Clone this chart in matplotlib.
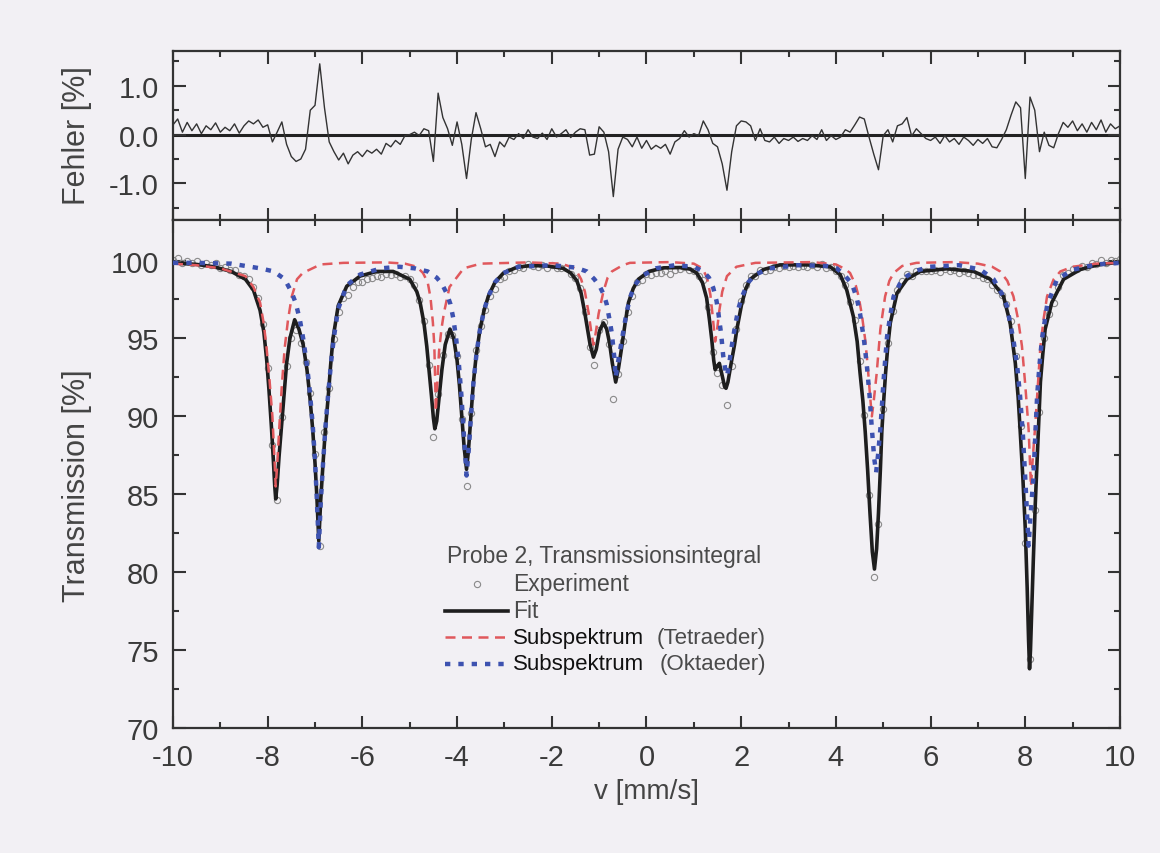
import numpy as np
import matplotlib
matplotlib.use("Agg")
import matplotlib.pyplot as plt

# Mössbauer-Spektrum Probe 2

# Messkanaele (Geschwindigkeit in mm/s)
v_exp = np.round(np.linspace(-10, 10, 201), 2)

# Experiment: Transmission in %
t_exp = [
    100.05, 100.15, 99.85, 100.0, 99.84, 99.97, 99.74, 99.86, 99.73, 99.81,
    99.55, 99.57, 99.40, 99.42, 99.08, 99.03, 98.83, 98.32, 97.6, 95.95,
    93.1, 88.15, 84.6, 89.95, 93.2, 95.05, 95.55, 94.7, 93.5, 91.5,
    87.6, 81.7, 89.0, 91.85, 94.95, 96.7, 97.6, 97.8, 98.3, 98.6,
    98.6, 98.83, 98.87, 99.0, 98.92, 99.14, 99.05, 99.13, 98.95, 98.98,
    98.8, 98.4, 97.48, 96.12, 93.28, 88.7, 91.45, 93.95, 95.3, 95.2,
    93.86, 89.8, 85.5, 90.2, 94.25, 95.82, 96.85, 97.75, 98.15, 98.8,
    98.97, 99.35, 99.42, 99.6, 99.55, 99.77, 99.63, 99.6, 99.7, 99.55,
    99.74, 99.53, 99.54, 99.5, 99.14, 98.9, 98.22, 96.7, 94.48, 93.3,
    95.56, 96.05, 94.65, 91.1, 92.7, 94.85, 96.7, 97.75, 98.6, 98.72,
    99.13, 99.05, 99.2, 99.22, 99.33, 99.15, 99.4, 99.47, 99.6, 99.42,
    99.34, 99.03, 98.73, 97.0, 94.1, 92.8, 92.0, 90.7, 93.25, 95.6,
    97.4, 98.45, 99.0, 98.98, 99.42, 99.33, 99.4, 99.6, 99.52, 99.64,
    99.6, 99.67, 99.58, 99.64, 99.6, 99.69, 99.6, 99.78, 99.52, 99.56,
    99.3, 99.0, 98.45, 97.35, 96.2, 93.56, 90.1, 84.95, 79.7, 83.1,
    90.5, 94.7, 96.75, 98.13, 98.67, 99.15, 99.02, 99.34, 99.32, 99.3,
    99.3, 99.4, 99.28, 99.45, 99.32, 99.37, 99.23, 99.35, 99.23, 99.08,
    99.1, 98.9, 98.82, 98.45, 98.08, 97.8, 97.2, 96.1, 93.87, 89.35,
    81.9, 74.4, 84.0, 90.25, 95.05, 96.58, 97.28, 98.27, 99.05, 99.2,
    99.48, 99.46, 99.67, 99.57, 99.85, 99.8, 100.04, 99.83, 100.05, 99.98,
    100.08,
]

# Fehler (Experiment - Fit) in %
fehler = [
    0.20, 0.32, 0.05, 0.25, 0.08, 0.22, 0.02, 0.18, 0.10, 0.24,
    0.05, 0.15, 0.08, 0.22, 0.03, 0.18, 0.28, 0.22, 0.30, 0.15,
    0.20, -0.15, 0.05, 0.26, -0.20, -0.45, -0.55, -0.50, -0.30, 0.50,
    0.60, 1.45, 0.55, -0.15, -0.35, -0.52, -0.38, -0.60, -0.42, -0.35,
    -0.45, -0.32, -0.38, -0.30, -0.40, -0.18, -0.25, -0.12, -0.20, -0.02,
    0.00, 0.05, -0.02, 0.12, 0.08, -0.55, 0.85, 0.35, 0.12, -0.22,
    0.26, -0.20, -0.90, -0.10, 0.45, 0.12, -0.25, -0.20, -0.45, -0.15,
    -0.25, -0.05, -0.10, 0.02, -0.08, 0.10, -0.05, -0.08, 0.03, -0.10,
    0.12, -0.05, 0.02, 0.10, -0.06, 0.05, 0.12, 0.10, -0.42, -0.40,
    0.16, 0.05, -0.35, -1.27, -0.30, -0.05, -0.10, -0.25, -0.05, -0.28,
    -0.12, -0.30, -0.22, -0.28, -0.20, -0.40, -0.15, -0.08, 0.08, -0.05,
    0.02, -0.02, 0.28, 0.10, -0.18, -0.25, -0.60, -1.14, -0.35, 0.18,
    0.28, 0.26, 0.18, -0.12, 0.12, -0.12, -0.15, -0.05, -0.18, -0.08,
    -0.12, -0.05, -0.14, -0.08, -0.12, -0.02, -0.10, 0.10, -0.12, -0.02,
    -0.10, -0.05, 0.10, 0.05, 0.20, 0.36, 0.32, -0.05, -0.40, -0.72,
    -0.02, 0.10, -0.15, 0.18, 0.22, 0.35, -0.03, 0.12, 0.02, -0.08,
    -0.12, -0.05, -0.18, -0.02, -0.15, -0.08, -0.20, -0.05, -0.12, -0.22,
    -0.10, -0.18, -0.08, -0.25, -0.27, -0.10, 0.10, 0.40, 0.67, 0.55,
    -0.90, 0.77, 0.50, -0.35, 0.05, -0.22, -0.27, 0.02, 0.25, 0.15,
    0.28, 0.08, 0.22, 0.05, 0.25, 0.10, 0.30, 0.05, 0.22, 0.12,
    0.18,
]

# Fit (Gesamtspektrum)
v_fit = [
    -10.0, -9.5, -9.14, -8.77, -8.47, -8.30, -8.16, -8.08, -8.02, -7.97,
    -7.92, -7.88, -7.85, -7.83, -7.80, -7.76, -7.71, -7.65, -7.60, -7.53,
    -7.43, -7.34, -7.25, -7.17, -7.11, -7.05, -7.00, -6.96, -6.92, -6.88,
    -6.83, -6.78, -6.72, -6.67, -6.62, -6.51, -6.33, -6.05, -5.70, -5.35,
    -5.00, -4.85, -4.78, -4.70, -4.64, -4.58, -4.54, -4.50, -4.47, -4.43,
    -4.38, -4.32, -4.25, -4.15, -4.07, -4.00, -3.95, -3.90, -3.85, -3.80,
    -3.76, -3.71, -3.66, -3.60, -3.52, -3.43, -3.34, -3.20, -3.02, -2.75,
    -2.46, -2.10, -1.76, -1.60, -1.47, -1.38, -1.30, -1.24, -1.19, -1.12,
    -1.06, -0.99, -0.91, -0.84, -0.78, -0.72, -0.65, -0.59, -0.52, -0.45,
    -0.38, -0.28, -0.17, 0.05, 0.36, 0.70, 0.92, 1.06, 1.18, 1.27,
    1.33, 1.38, 1.42, 1.45, 1.49, 1.54, 1.60, 1.65, 1.68, 1.72,
    1.76, 1.80, 1.86, 1.91, 2.01, 2.10, 2.19, 2.47, 2.82, 3.40,
    3.88, 4.09, 4.23, 4.37, 4.45, 4.51, 4.57, 4.62, 4.67, 4.72,
    4.77, 4.815, 4.86, 4.90, 4.94, 4.97, 5.01, 5.05, 5.10, 5.15,
    5.29, 5.50, 5.78, 6.34, 6.91, 7.26, 7.54, 7.68, 7.79, 7.85,
    7.89, 7.95, 8.00, 8.04, 8.07, 8.09, 8.11, 8.14, 8.17, 8.21,
    8.25, 8.29, 8.32, 8.37, 8.42, 8.56, 8.81, 9.16, 9.50, 9.86,
    10.0,
]
t_fit = [
    99.85, 99.75, 99.6, 99.3, 98.8, 98.1, 96.8, 95.4, 93.6, 91.6,
    89.3, 87.2, 85.5, 84.7, 85.6, 87.4, 89.3, 91.6, 93.4, 95.0,
    96.2, 95.6, 94.6, 93.0, 91.3, 89.2, 87.0, 84.8, 82.0, 84.6,
    87.0, 89.2, 91.3, 93.3, 95.0, 97.1, 98.35, 99.0, 99.3, 99.3,
    98.8, 98.0, 97.3, 96.0, 94.5, 92.6, 91.3, 89.9, 89.2, 89.7,
    91.2, 93.0, 94.6, 95.6, 95.0, 93.6, 92.0, 90.0, 88.0, 86.6,
    87.8, 89.9, 92.0, 93.8, 95.5, 96.8, 97.7, 98.6, 99.2, 99.55,
    99.68, 99.65, 99.5, 99.2, 98.7, 97.9, 96.6, 95.5, 94.6, 93.8,
    94.3, 95.5, 96.0, 95.6, 94.7, 93.4, 92.2, 93.1, 94.5, 96.0,
    97.3, 98.2, 98.8, 99.3, 99.53, 99.55, 99.45, 99.2, 98.6, 97.6,
    96.2, 94.9, 93.6, 93.0, 93.2, 93.4, 92.6, 91.9, 91.8, 92.2,
    92.9, 93.6, 94.6, 95.6, 97.2, 98.2, 98.8, 99.42, 99.72, 99.72,
    99.6, 99.1, 98.1, 96.4, 94.8, 92.8, 91.0, 89.0, 86.6, 83.8,
    81.3, 80.2, 81.5, 83.8, 86.6, 89.0, 91.0, 92.8, 94.6, 96.0,
    97.9, 98.8, 99.3, 99.47, 99.3, 98.8, 97.7, 96.0, 93.4, 91.2,
    89.2, 86.0, 82.8, 79.0, 75.6, 73.8, 75.0, 78.0, 80.8, 84.3,
    87.2, 90.0, 92.2, 94.0, 95.6, 97.3, 98.8, 99.42, 99.7, 99.85,
    99.9,
]

# Subspektrum Tetraeder
v_tetra = [
    -10.0, -9.5, -9.0, -8.47, -8.30, -8.16, -8.08, -8.02, -7.96, -7.90,
    -7.86, -7.83, -7.80, -7.75, -7.70, -7.64, -7.57, -7.49, -7.38, -7.26,
    -6.88, -6.4, -5.5, -5.1, -4.85, -4.72, -4.62, -4.56, -4.51, -4.48,
    -4.46, -4.45, -4.42, -4.38, -4.33, -4.28, -4.16, -3.86, -3.5, -2.5,
    -1.8, -1.55, -1.47, -1.38, -1.30, -1.22, -1.16, -1.12, -1.08, -1.01,
    -0.91, -0.82, -0.73, -0.50, -0.35, 0.5, 1.0, 1.18, 1.28, 1.35,
    1.40, 1.45, 1.49, 1.53, 1.60, 1.70, 1.90, 2.3, 3.5, 4.0,
    4.20, 4.30, 4.42, 4.48, 4.55, 4.62, 4.67, 4.72, 4.76, 4.80,
    4.86, 4.94, 5.04, 5.13, 5.22, 5.40, 5.7, 6.5, 7.0, 7.30,
    7.47, 7.62, 7.75, 7.85, 7.93, 8.00, 8.07, 8.12, 8.16, 8.21,
    8.27, 8.32, 8.39, 8.46, 8.60, 8.74, 9.0, 9.5, 10.0,
]
t_tetra = [
    99.8, 99.7, 99.5, 99.0, 98.3, 97.3, 95.9, 94.3, 92.3, 90.0,
    87.5, 85.5, 86.8, 89.5, 92.0, 94.4, 96.2, 97.7, 98.8, 99.2,
    99.75, 99.85, 99.88, 99.8, 99.6, 99.2, 98.6, 97.6, 96.0, 94.5,
    92.0, 90.3, 92.0, 94.2, 95.6, 96.6, 98.3, 99.5, 99.8, 99.88,
    99.8, 99.55, 99.3, 98.8, 98.0, 96.6, 95.3, 94.6, 95.2, 96.6,
    98.0, 98.9, 99.3, 99.7, 99.85, 99.9, 99.8, 99.5, 98.9, 97.8,
    96.4, 94.8, 95.5, 96.6, 98.0, 99.0, 99.6, 99.85, 99.9, 99.75,
    99.45, 99.2, 98.4, 97.7, 96.5, 94.9, 93.3, 91.4, 90.0, 91.0,
    92.7, 95.6, 97.7, 98.7, 99.2, 99.65, 99.85, 99.9, 99.8, 99.6,
    99.3, 98.7, 97.7, 96.2, 94.5, 92.0, 89.2, 85.5, 87.4, 89.4,
    92.2, 94.5, 96.3, 97.7, 98.8, 99.3, 99.6, 99.8, 99.85,
]

# Subspektrum Oktaeder
v_okta = [
    -10.0, -9.5, -8.77, -8.16, -7.87, -7.64, -7.50, -7.41, -7.32, -7.25,
    -7.17, -7.11, -7.05, -7.00, -6.96, -6.92, -6.88, -6.83, -6.78, -6.72,
    -6.66, -6.60, -6.51, -6.33, -6.05, -5.6, -5.22, -4.90, -4.62, -4.43,
    -4.32, -4.22, -4.14, -4.08, -4.02, -3.96, -3.91, -3.86, -3.80, -3.75,
    -3.70, -3.65, -3.59, -3.52, -3.43, -3.34, -3.2, -3.02, -2.7, -2.0,
    -1.5, -1.26, -1.10, -0.98, -0.90, -0.84, -0.78, -0.73, -0.68, -0.65,
    -0.61, -0.56, -0.50, -0.43, -0.35, -0.25, -0.10, 0.2, 0.6, 1.0,
    1.20, 1.32, 1.41, 1.48, 1.52, 1.58, 1.62, 1.67, 1.70, 1.74,
    1.79, 1.86, 1.94, 2.02, 2.15, 2.30, 2.6, 3.2, 3.8, 4.02,
    4.20, 4.34, 4.44, 4.51, 4.59, 4.65, 4.71, 4.76, 4.81, 4.85,
    4.89, 4.94, 5.01, 5.08, 5.15, 5.22, 5.35, 5.50, 5.70, 5.99,
    6.6, 7.05, 7.33, 7.50, 7.61, 7.75, 7.83, 7.89, 7.95, 8.00,
    8.04, 8.07, 8.11, 8.17, 8.21, 8.25, 8.30, 8.35, 8.46, 8.67,
    9.02, 9.5, 10.0,
]
t_okta = [
    99.85, 99.85, 99.8, 99.5, 99.3, 98.8, 98.0, 97.3, 96.2, 95.0,
    93.3, 91.6, 89.5, 87.2, 84.6, 81.6, 84.4, 87.0, 89.3, 91.5,
    93.5, 95.1, 96.9, 98.4, 99.1, 99.5, 99.6, 99.5, 99.3, 98.9,
    98.5, 97.9, 97.2, 96.3, 95.0, 93.3, 91.4, 89.0, 86.2, 88.0,
    90.3, 92.3, 94.0, 95.5, 96.8, 97.7, 98.6, 99.2, 99.6, 99.7,
    99.55, 99.3, 98.8, 98.3, 97.8, 97.2, 96.2, 95.3, 93.8, 92.5,
    93.3, 94.2, 95.3, 96.5, 97.6, 98.4, 99.0, 99.5, 99.7, 99.6,
    99.3, 98.9, 98.25, 97.4, 96.6, 95.2, 93.9, 92.9, 92.6, 93.2,
    94.3, 95.6, 96.9, 97.7, 98.6, 99.1, 99.5, 99.7, 99.65, 99.5,
    99.0, 98.5, 97.6, 96.6, 95.0, 93.4, 91.4, 89.2, 87.3, 86.4,
    87.5, 89.2, 92.4, 95.1, 96.5, 97.7, 98.5, 99.0, 99.35, 99.6,
    99.7, 99.42, 98.8, 97.9, 97.1, 94.9, 93.2, 91.3, 88.8, 86.0,
    83.5, 81.7, 83.6, 86.0, 88.7, 91.3, 93.3, 94.9, 97.1, 98.8,
    99.42, 99.75, 99.85,
]

papier = "#f2f0f4"
rot = "#e0585c"
blau = "#3d52b0"
grau = "#444444"

plt.rcParams["font.family"] = ["Liberation Sans", "DejaVu Sans"]

fig = plt.figure(figsize=(11.6, 8.54), dpi=100, facecolor=papier)
ax1 = fig.add_axes([0.1491, 0.7412, 0.8164, 0.1983], facecolor=papier)
ax2 = fig.add_axes([0.1491, 0.1464, 0.8164, 0.5948], facecolor=papier)

# oberes Fenster: Fehler
ax1.axhline(0, color="#222222", lw=2.2, zorder=1)
ax1.plot(v_exp, fehler, color="#333333", lw=1.0, zorder=2)
ax1.set_xlim(-10, 10)
ax1.set_ylim(-1.75, 1.72)
ax1.set_yticks([-1.0, 0.0, 1.0])
ax1.set_yticklabels(["-1.0", "0.0", "1.0"])
ax1.set_yticks([-1.5, -0.5, 0.5, 1.5], minor=True)

# unteres Fenster: Transmission
ax2.plot(v_exp, t_exp, "o", ms=4.5, mfc="none", mec="#8a8a8a", mew=0.8, zorder=2)
ax2.plot(v_fit, t_fit, color="#1e1e1e", lw=2.6, zorder=3)
ax2.plot(v_tetra, t_tetra, color=rot, lw=1.8, dashes=(4, 2.6), zorder=4)
ax2.plot(v_okta, t_okta, color=blau, lw=3.2, dashes=(1.2, 1.8), zorder=5)
ax2.set_xlim(-10, 10)
ax2.set_ylim(70, 102.6)
ax2.set_yticks(np.arange(70, 101, 5))
ax2.set_yticks(np.arange(72.5, 102, 5), minor=True)

for ax in (ax1, ax2):
    ax.set_xticks(np.arange(-10, 11, 2))
    ax.set_xticks(np.arange(-9, 10, 2), minor=True)
    for s in ax.spines.values():
        s.set_linewidth(1.6)
        s.set_color("#333333")
    ax.tick_params(which="both", direction="in", top=True, right=True,
                   width=1.5, color="#333333", labelsize=21, labelcolor="#3a3a3a")
    ax.tick_params(which="major", length=9, pad=10)
    ax.tick_params(which="minor", length=4.5)
ax2.set_xticklabels([str(t) for t in range(-10, 11, 2)])
ax1.tick_params(axis="x", labelbottom=False)
ax2.tick_params(axis="x", pad=11)

fig.text(0.0664, 0.8407, "Fehler [%]", rotation=90, ha="center", va="center",
         fontsize=22, color=grau)
fig.text(0.0664, 0.4315, "Transmission [%]", rotation=90, ha="center", va="center",
         fontsize=22, color=grau)
fig.text(0.557, 0.073, "v [mm/s]", ha="center", va="center", fontsize=20, color=grau)

# Legende von Hand
tr = ax2.transAxes
fs = 16
ax2.text(0.289, 0.339, "Probe 2, Transmissionsintegral", transform=tr,
         fontsize=16.5, color="#4a4a4a", va="center", ha="left")
ax2.plot([0.3207], [0.2835], "o", ms=4.5, mfc="none", mec="#8a8a8a", mew=0.8,
         transform=tr)
ax2.text(0.3587, 0.2835, "Experiment", transform=tr, fontsize=16.5, color="#4a4a4a",
         va="center")
ax2.plot([0.2872, 0.3537], [0.2309, 0.2309], color="#1e1e1e", lw=2.6, transform=tr)
ax2.text(0.3587, 0.2309, "Fit", transform=tr, fontsize=16.5, color="#4a4a4a",
         va="center")
ax2.plot([0.2872, 0.3537], [0.1785, 0.1785], color=rot, lw=1.8, dashes=(4, 2.6),
         transform=tr)
ax2.text(0.3587, 0.1785, "Subspektrum", transform=tr, fontsize=fs, color="#111111",
         va="center")
ax2.text(0.511, 0.1785, "(Tetraeder)", transform=tr, fontsize=fs, color="#4a4a4a",
         va="center")
ax2.plot([0.2872, 0.3537], [0.126, 0.126], color=blau, lw=3.2, dashes=(1.2, 1.8),
         transform=tr)
ax2.text(0.3587, 0.126, "Subspektrum", transform=tr, fontsize=fs, color="#111111",
         va="center")
ax2.text(0.514, 0.126, "(Oktaeder)", transform=tr, fontsize=fs, color="#4a4a4a",
         va="center")

fig.savefig("out.png", dpi=100, facecolor=papier)
